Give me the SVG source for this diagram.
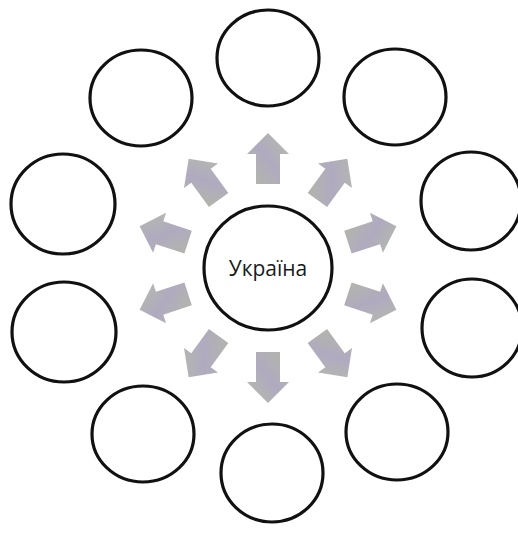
<svg xmlns="http://www.w3.org/2000/svg" width="518" height="546" viewBox="0 0 518 546">
<defs>
<linearGradient id="g" x1="0" y1="0" x2="1" y2="1">
<stop offset="0" stop-color="#b3b8a6"/>
<stop offset="0.5" stop-color="#b0aac0"/>
<stop offset="1" stop-color="#b5bda8"/>
</linearGradient>
<path id="arr" d="M0,-12 L30,-12 L30,-21 L51,0 L30,21 L30,12 L0,12 Z"/>
</defs>
<style>
.n{fill:#fff;stroke:#111;stroke-width:3.2}
.a{fill:url(#g)}
text{font-family:"Open Sans","Noto Sans","DejaVu Sans",sans-serif;font-size:21px;fill:#1a1a1a}
</style>
<rect width="518" height="546" fill="#fff"/>
<g id="connectors">
<use href="#arr" class="a" transform="translate(268,268) rotate(-90) translate(84,0)"/>
<use href="#arr" class="a" transform="translate(268,268) rotate(-54) translate(84,0)"/>
<use href="#arr" class="a" transform="translate(268,268) rotate(-18) translate(84,0)"/>
<use href="#arr" class="a" transform="translate(268,268) rotate(18) translate(84,0)"/>
<use href="#arr" class="a" transform="translate(268,268) rotate(54) translate(84,0)"/>
<use href="#arr" class="a" transform="translate(268,268) rotate(90) translate(84,0)"/>
<use href="#arr" class="a" transform="translate(268,268) rotate(126) translate(84,0)"/>
<use href="#arr" class="a" transform="translate(268,268) rotate(162) translate(84,0)"/>
<use href="#arr" class="a" transform="translate(268,268) rotate(198) translate(84,0)"/>
<use href="#arr" class="a" transform="translate(268,268) rotate(234) translate(84,0)"/>
</g>
<g id="center"><ellipse class="n" cx="268" cy="268" rx="64" ry="62"/><text x="268" y="276" text-anchor="middle">Україна</text></g>
<g id="n1"><ellipse class="n" cx="268" cy="58" rx="51" ry="48"/></g>
<g id="n2"><ellipse class="n" cx="395" cy="97" rx="51" ry="48"/></g>
<g id="n3"><ellipse class="n" cx="471" cy="201" rx="50" ry="49"/></g>
<g id="n4"><ellipse class="n" cx="472" cy="328" rx="50" ry="49"/></g>
<g id="n5"><ellipse class="n" cx="397" cy="432" rx="51" ry="48"/></g>
<g id="n6"><ellipse class="n" cx="272" cy="473" rx="51" ry="49"/></g>
<g id="n7"><ellipse class="n" cx="143" cy="434" rx="51" ry="48"/></g>
<g id="n8"><ellipse class="n" cx="64" cy="332" rx="52" ry="50"/></g>
<g id="n9"><ellipse class="n" cx="63" cy="204" rx="52" ry="50"/></g>
<g id="n10"><ellipse class="n" cx="141" cy="98" rx="51" ry="48"/></g>
</svg>
